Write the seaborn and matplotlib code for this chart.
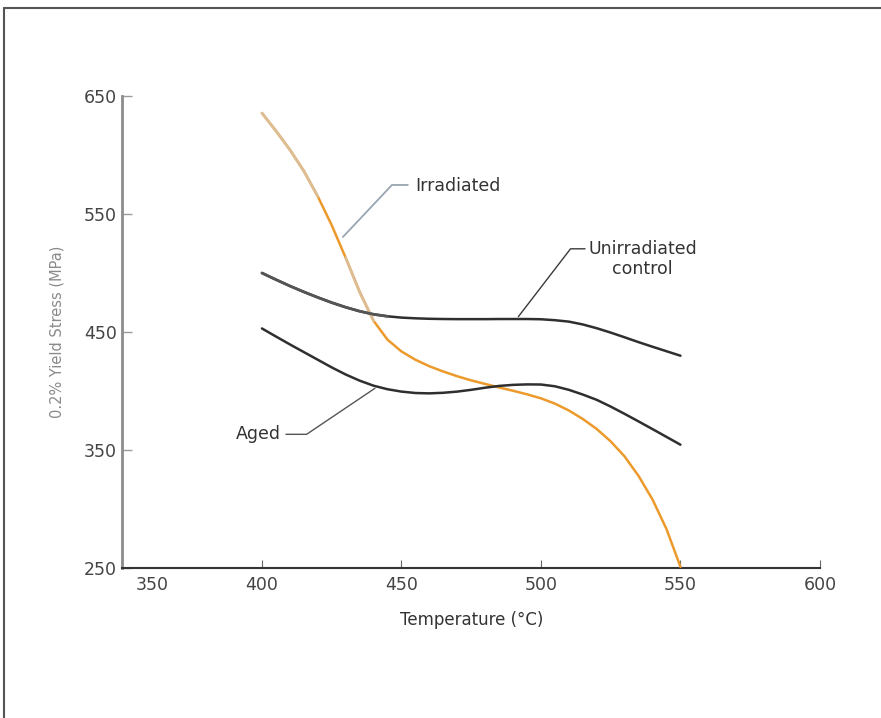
import pandas as pd
import matplotlib
matplotlib.use("Agg")
import matplotlib.pyplot as plt
import matplotlib.transforms as mtransforms
from matplotlib.lines import Line2D
import seaborn as sns

# Test temperatures (°C) and 0.2% yield stress (MPa) for each condition
temperature = list(range(400, 551, 5))
irradiated = [635.5, 620.5, 604.5, 586.5, 565, 540.5, 513, 484, 459.5, 443.5,
              433.5, 426.5, 421, 416.5, 412.5, 409, 406, 403, 400.2, 397.2,
              393.8, 389.3, 383.5, 376.3, 367.8, 357.3, 344.5, 328, 308, 283,
              251]
unirradiated = [500, 494.4, 489, 484, 479.3, 474.9, 471, 467.6, 465, 463.3,
                462.2, 461.6, 461.2, 461, 460.9, 460.9, 460.9, 461, 461, 461,
                460.8, 460, 458.8, 456.4, 453.2, 449.5, 445.5, 441.4, 437.5,
                433.7, 429.9]
aged = [453, 446.2, 439.5, 433, 426.5, 420, 414, 408.8, 404.5, 401.5,
        399.5, 398.3, 398, 398.5, 399.5, 401, 402.8, 404.3, 405.2, 405.6,
        405.5, 404, 401, 397, 392.5, 386.8, 380.6, 374.2, 367.7, 361.1,
        354.5]

x_ticks = [350, 400, 450, 500, 550, 600]
y_ticks = [250, 350, 450, 550, 650]

sns.set_theme(style="white")
plt.rcParams["font.family"] = ["DejaVu Sans"]
plt.rcParams["lines.solid_joinstyle"] = "round"
plt.rcParams["lines.solid_capstyle"] = "round"

df = pd.DataFrame({
    "Temperature": temperature * 3,
    "Stress": irradiated + unirradiated + aged,
    "Condition": (["Irradiated"] * len(temperature)
                  + ["Unirradiated control"] * len(temperature)
                  + ["Aged"] * len(temperature)),
})

ORANGE = "#EC9A2B"
DARK = "#2f2f2f"
palette = {"Irradiated": ORANGE, "Unirradiated control": DARK, "Aged": DARK}

fig = plt.figure(figsize=(8.81, 7.18), dpi=100)
ax = fig.add_axes([0.139, 0.2089, 0.7917, 0.6574])

sns.lineplot(data=df, x="Temperature", y="Stress", hue="Condition",
             palette=palette, legend=False, linewidth=1.8, errorbar=None,
             ax=ax, zorder=3)

# faded stretches of the curves
irr = df[df["Condition"] == "Irradiated"]
unc = df[df["Condition"] == "Unirradiated control"]
for lo, hi in [(400, 420), (430, 440)]:
    seg = irr[(irr["Temperature"] >= lo) & (irr["Temperature"] <= hi)]
    sns.lineplot(data=seg, x="Temperature", y="Stress", color="#DCBD94",
                 linewidth=2.0, errorbar=None, ax=ax, zorder=4)
seg = unc[unc["Temperature"] <= 445]
sns.lineplot(data=seg, x="Temperature", y="Stress", color="#555555",
             linewidth=2.0, errorbar=None, ax=ax, zorder=4)

ax.set_xlim(350, 600)
ax.set_ylim(250, 650)
ax.set_xticks(x_ticks)
ax.set_yticks(y_ticks)
ax.set_xticklabels([str(v) for v in x_ticks])
ax.set_yticklabels([str(v) for v in y_ticks])

for side in ("top", "right"):
    ax.spines[side].set_visible(False)
ax.spines["left"].set_color("#8c8c8c")
ax.spines["left"].set_linewidth(2.0)
ax.spines["bottom"].set_color("#333333")
ax.spines["bottom"].set_linewidth(1.5)

ax.tick_params(axis="y", left=True, direction="in", length=7, width=1.0,
               color="#9a9a9a", pad=4, labelsize=12.5, labelcolor="#444444")
ax.tick_params(axis="x", bottom=True, direction="in", length=6, width=0.8,
               color="#666666", pad=6, labelsize=12.5, labelcolor="#444444")

# nudge the first x label clear of the y-axis labels
first = ax.xaxis.get_major_ticks()[0].label1
first.set_transform(first.get_transform()
                    + mtransforms.ScaledTranslation(0.30, 0, fig.dpi_scale_trans))

ax.set_xlabel("Temperature (°C)", fontsize=12, color="#333333", labelpad=12)
ax.set_ylabel("0.2% Yield Stress (MPa)", fontsize=10.5, color="#8a8a8a",
              labelpad=14)

# curve labels with leader lines
ax.plot([429.0, 446.6, 452.3], [530.5, 574.6, 574.6], color="#9aa6b2",
        lw=1.3, zorder=5)
ax.text(454.8, 574.0, "Irradiated", fontsize=12.5, color="#333333",
        ha="left", va="center")

ax.plot([491.9, 510.6, 515.8], [463.0, 520.5, 520.5], color="#3a3a3a",
        lw=1.0, zorder=5)
ax.text(536.5, 512.0, "Unirradiated\ncontrol", fontsize=12.5,
        color="#333333", ha="center", va="center", linespacing=1.1)

ax.plot([440.5, 416.0, 408.6], [402.3, 363.3, 363.3], color="#555555",
        lw=1.0, zorder=5)
ax.text(406.8, 363.6, "Aged", fontsize=12.5, color="#333333",
        ha="right", va="center")

# outer frame
fig.add_artist(Line2D([4 / 881, 1], [1 - 8 / 718, 1 - 8 / 718],
                      transform=fig.transFigure, color="#555555", lw=1.5))
fig.add_artist(Line2D([4 / 881, 4 / 881], [0, 1 - 8 / 718],
                      transform=fig.transFigure, color="#555555", lw=1.5))

fig.savefig("out.png", dpi=100, facecolor="white")
